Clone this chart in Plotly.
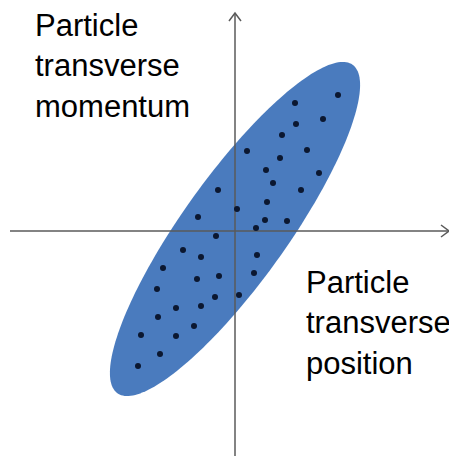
"""Phase-space ellipse: transverse position vs transverse momentum."""

import numpy as np
import plotly.graph_objects as go

# particle positions (x = transverse position, y = transverse momentum)
pos_x = [103, 60, 88, 61, 47, 12, 72, 45, 31, 84, 38, -17, 66, 32, 2, -37, 30, 52, 21,
         -19, -52, -34, 22, -72, -38, -16, 19, -78, -20, 4, -59, -34, -77, -41, -94,
         -59, -75, -97]
mom_y = [136, 128, 112, 107, 96, 80, 81, 73, 61, 58, 48, 41, 41, 29, 22, 14, 11, 10, 3,
         -5, -19, -26, -24, -37, -48, -45, -42, -58, -66, -64, -77, -75, -86, -95, -104,
         -105, -123, -135]

# beam ellipse parameters
ell_center = (0, 2)
ell_semi_major = 202
ell_semi_minor = 52.5
ell_angle_deg = 54.4

x_label = "Particle<br>transverse<br>position"
y_label = "Particle<br>transverse<br>momentum"

# page body has an 8px margin, so the ranges are offset to keep the origin in place
X_RANGE = [-227, 230]
Y_RANGE = [-233, 223]
AXIS_COLOR = "#5a5a5a"
HEAD = 6
FONT = dict(family="Arial, Liberation Sans", size=31, color="black")

t = np.linspace(0, 2 * np.pi, 200)
th = np.radians(ell_angle_deg)
ex = ell_center[0] + ell_semi_major * np.cos(t) * np.cos(th) - ell_semi_minor * np.sin(t) * np.sin(th)
ey = ell_center[1] + ell_semi_major * np.cos(t) * np.sin(th) + ell_semi_minor * np.sin(t) * np.cos(th)

fig = go.Figure()

fig.add_trace(go.Scatter(
    x=ex, y=ey, fill="toself", mode="none",
    fillcolor="rgb(74,123,190)", hoverinfo="skip",
))

# axes with open arrowheads
x_start, x_end, y_end = -225, 214, 218
fig.add_trace(go.Scatter(
    x=[x_start, x_end, None, x_end - HEAD - 2, x_end, x_end - HEAD - 2],
    y=[0, 0, None, -HEAD, 0, HEAD],
    mode="lines", line=dict(color=AXIS_COLOR, width=1.5), hoverinfo="skip",
))
fig.add_trace(go.Scatter(
    x=[0, 0, None, -HEAD, 0, HEAD],
    y=[Y_RANGE[0], y_end, None, y_end - HEAD - 2, y_end, y_end - HEAD - 2],
    mode="lines", line=dict(color=AXIS_COLOR, width=1.5), hoverinfo="skip",
))

fig.add_trace(go.Scatter(
    x=pos_x, y=mom_y, mode="markers",
    marker=dict(color="#0b1730", size=6),
))

fig.add_annotation(
    x=-202, y=1, xref="x", yref="paper", yshift=2, text=y_label, showarrow=False,
    xanchor="left", yanchor="top", align="left", font=FONT,
)
fig.add_annotation(
    x=69, y=-32, xref="x", yref="y", text=x_label, showarrow=False,
    xanchor="left", yanchor="top", align="left", font=FONT,
)

fig.update_layout(
    width=457, height=456,
    margin=dict(l=0, r=0, t=0, b=0),
    plot_bgcolor="white", paper_bgcolor="white",
    showlegend=False,
    xaxis=dict(range=X_RANGE, visible=False),
    yaxis=dict(range=Y_RANGE, visible=False),
)

fig.write_html("out.html")
